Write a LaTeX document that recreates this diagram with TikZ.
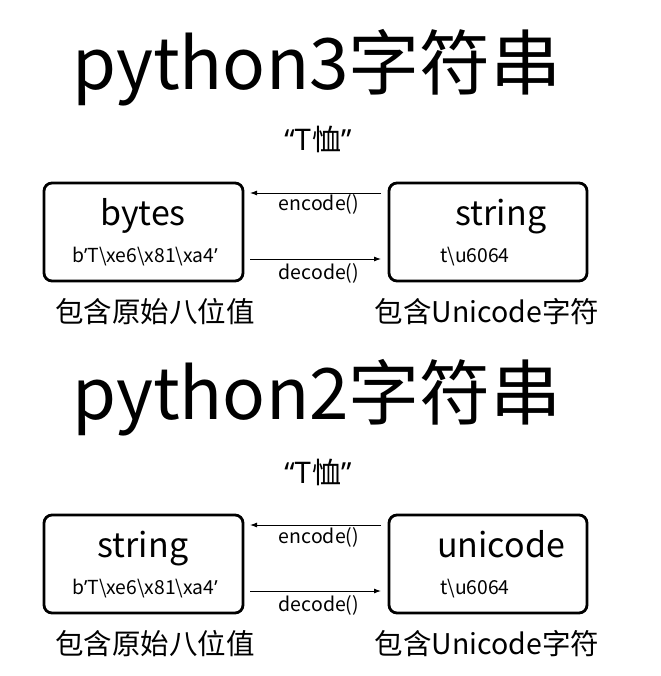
\documentclass[tikz,border=0pt]{standalone}
\usepackage{fontspec}
\setmainfont{Noto Sans CJK SC}
\newfontfamily\latq{Noto Sans}
\newcommand{\qa}{{\latq ’}}
\newcommand{\qo}{{\latq “}}
\newcommand{\qc}{{\latq ”}}
\usetikzlibrary{arrows.meta}
\tikzset{
  box/.style={draw, line width=2.8pt, rounded corners=8pt},
  title/.style={anchor=base, font=\fontsize{71}{78}\selectfont},
  quote/.style={anchor=base, font=\fontsize{29}{32}\selectfont},
  big/.style={anchor=base, font=\fontsize{34}{38}\selectfont},
  small/.style={anchor=base, font=\fontsize{19.3}{22}\selectfont},
  lbl/.style={anchor=base, font=\fontsize{19.5}{21}\selectfont},
  note/.style={anchor=base, font=\fontsize{28.5}{31}\selectfont},
  conn/.style={line width=0.9pt, -{Latex[length=7pt,width=5pt]}},
}
\begin{document}
\begin{tikzpicture}[x=1pt,y=-1pt]
\useasboundingbox (0,0) rectangle (660,676);
\foreach \o/\ver/\lt/\rt/\ty in {0/3/bytes/string/90, 332/2/string/unicode/87}{
  \begin{scope}[yshift=-\o pt]
  \node[title] (t\ver) at (317,\ty) {python\ver 字符串};
  \node[quote] (q\ver) at (318,151) {\qo T恤\qc};
  \draw[box] (44,183) rectangle (243,281);
  \draw[box] (389,183) rectangle (587,281);
  \node[big] (lb\ver) at (143,225) {\lt};
  \node[small] (ls\ver) at (145,262) {b\qa T\textbackslash xe6\textbackslash x81\textbackslash xa4\qa};
  \node[big] (rb\ver) at (501,225) {\rt};
  \node[small] (rs\ver) at (475,262) {t\textbackslash u6064};
  \coordinate (ea\ver) at (381,193);
  \coordinate (eb\ver) at (250,193);
  \coordinate (da\ver) at (250,259);
  \coordinate (db\ver) at (381,259);
  \draw[conn] (ea\ver) -- (eb\ver);
  \draw[conn] (da\ver) -- (db\ver);
  \node[lbl] (el\ver) at (319,211) {encode()};
  \node[lbl] (dl\ver) at (319,279) {decode()};
  \node[note] (nl\ver) at (155,322) {包含原始八位值};
  \node[note] (nr\ver) at (487,322) {包含Unicode字符};
  \end{scope}
}
\end{tikzpicture}
\end{document}
